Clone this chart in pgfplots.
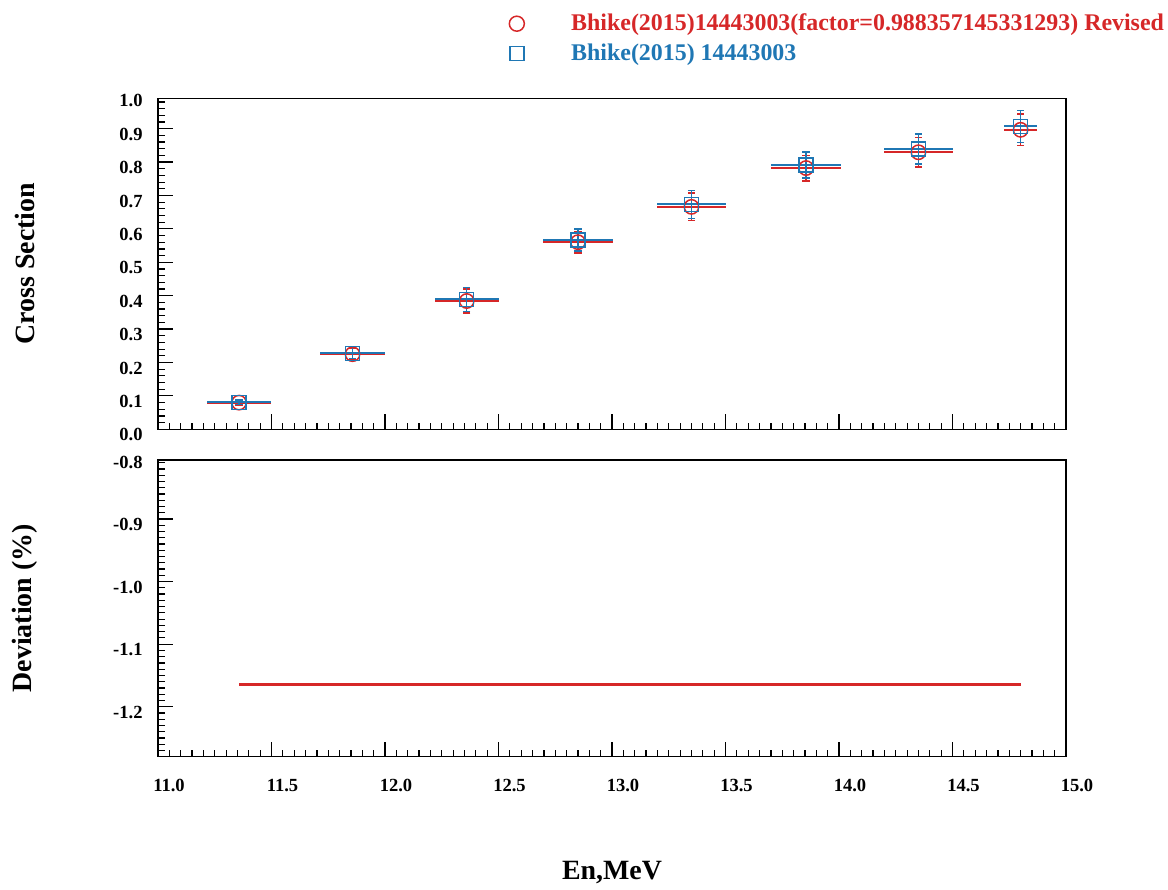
\documentclass[border=0pt]{standalone}
\usepackage{fontspec}
\setmainfont{Liberation Serif}
\usepackage{pgfplots}
\pgfplotsset{compat=1.18}
\usepackage{pgfplotstable}

\definecolor{myred}{RGB}{214,39,40}
\definecolor{myblue}{RGB}{31,119,180}

% E, half bin width, original (b) and revised (r) cross sections with errors
\pgfplotstableread{
E      dx    yb     dyb    yr     dyr
11.357 0.141 0.0808 0.0070 0.0799 0.0069
11.857 0.145 0.2275 0.0165 0.2249 0.0163
12.360 0.140 0.3886 0.0360 0.3841 0.0356
12.850 0.155 0.5668 0.0330 0.5602 0.0326
13.350 0.150 0.6737 0.0420 0.6659 0.0415
13.855 0.155 0.7913 0.0390 0.7821 0.0385
14.350 0.152 0.8392 0.0450 0.8294 0.0445
14.800 0.073 0.9072 0.0480 0.8966 0.0474
}\xsdata

% deviation of the revised set, in percent
\pgfplotstableread{
E      dev
11.357 -1.1643
11.857 -1.1643
12.360 -1.1643
12.850 -1.1643
13.350 -1.1643
13.855 -1.1643
14.350 -1.1643
14.800 -1.1643
}\devdata

\pgfplotsset{
  panel/.style={
    scale only axis, width=454bp,
    xmin=11, xmax=15,
    xtick={11,11.5,12,12.5,13,13.5,14,14.5,15},
    minor x tick num=9,
    tick pos=left, tick align=inside,
    axis line style={line width=0.7bp},
    tick style={line width=0.6bp, black},
    major tick length=7.5bp, minor tick length=3.3bp,
    tick label style={font=\bfseries\fontsize{9.3}{11}\selectfont},
    yticklabel style={xshift=-4.2bp, yshift=-2.8bp},
    label style={font=\bfseries\fontsize{14}{16}\selectfont},
    ylabel style={at={(axis description cs:-0.1468,0.5)}, anchor=center},
    extra y tick style={major tick length=0pt, yticklabel style={yshift=2.8bp}},
    /pgf/number format/fixed,
    /pgf/number format/fixed zerofill,
    /pgf/number format/precision=1,
    /pgf/number format/assume math mode=true,
  },
  hbar/.style={draw=none, no markers, forget plot,
    error bars/x dir=both, error bars/x explicit, error bars/error mark=none,
    error bars/error bar style={draw=#1, solid, line width=1bp}},
  vbar/.style={only marks, forget plot, mark options={draw=#1, line width=0.75bp, fill=none},
    error bars/y dir=both, error bars/y explicit,
    error bars/error bar style={draw=#1, line width=0.65bp},
    error bars/error mark options={rotate=90, mark size=1.8bp, line width=0.65bp, draw=#1}},
}

\begin{document}
\begin{tikzpicture}
\useasboundingbox (0,0) rectangle (584bp,445bp);

% upper panel: cross sections
\begin{axis}[panel,
  at={(79bp,230.35bp)}, anchor=south west, height=165.5bp,
  ymin=0, ymax=0.991,
  ytick={0,0.1,0.2,0.3,0.4,0.5,0.6,0.7,0.8,0.9},
  minor ytick={0.02,0.04,0.06,0.08,0.12,0.14,0.16,0.18,0.22,0.24,0.26,0.28,0.32,0.34,0.36,0.38,0.42,0.44,0.46,0.48,0.52,0.54,0.56,0.58,0.62,0.64,0.66,0.68,0.72,0.74,0.76,0.78,0.82,0.84,0.86,0.88,0.92,0.94,0.96,0.98},
  extra y ticks={0.983}, extra y tick labels={1.0},
  xticklabels={},
  ylabel={Cross Section},
  legend style={at={(axis description cs:0.3844,1.2595)}, anchor=north west,
    draw=none, fill=none, inner sep=0pt, row sep=4bp,
    font=\bfseries\fontsize{12}{14}\selectfont,
    nodes={inner sep=0.5bp}, cells={anchor=west}},
  legend image code/.code={\draw[#1] plot coordinates {(0bp,0bp)}; \path (-4.5bp,0bp) (26.5bp,0bp);},
]
\addlegendimage{only marks, mark=o, mark size=3.75bp, mark options={myred, line width=0.75bp}}
\addlegendentry{\textcolor{myred}{Bhike(2015)14443003(factor=0.988357145331293) Revised}}
\addlegendimage{only marks, mark=square, mark size=3.5bp, mark options={myblue, line width=0.75bp}}
\addlegendentry{\textcolor{myblue}{Bhike(2015) 14443003}}

\addplot[hbar=myred] table[x=E, y=yr, x error=dx] {\xsdata};
\addplot[vbar=myred, mark=o, mark size=3.6bp] table[x=E, y=yr, y error=dyr] {\xsdata};
\addplot[hbar=myblue] table[x=E, y=yb, x error=dx] {\xsdata};
\addplot[vbar=myblue, mark=square, mark size=3.5bp] table[x=E, y=yb, y error=dyb] {\xsdata};
\end{axis}

% lower panel: deviation
\begin{axis}[panel,
  at={(79bp,66.65bp)}, anchor=south west, height=148.35bp,
  ymin=-1.2799, ymax=-0.8057,
  ytick={-1.2,-1.1,-1.0,-0.9},
  minor ytick={-1.27,-1.26,...,-0.81},
  extra y ticks={-0.81}, extra y tick labels={-0.8},
  xticklabel style={xshift=5.5bp, yshift=-7.7bp},
  ylabel={Deviation (\%)},
  xlabel={En,MeV},
  xlabel style={at={(axis description cs:0.5,-0.392)}, anchor=center},
]
\addplot[myred, line width=1.5bp, no marks] table[x=E, y=dev] {\devdata};
\end{axis}
\end{tikzpicture}
\end{document}
